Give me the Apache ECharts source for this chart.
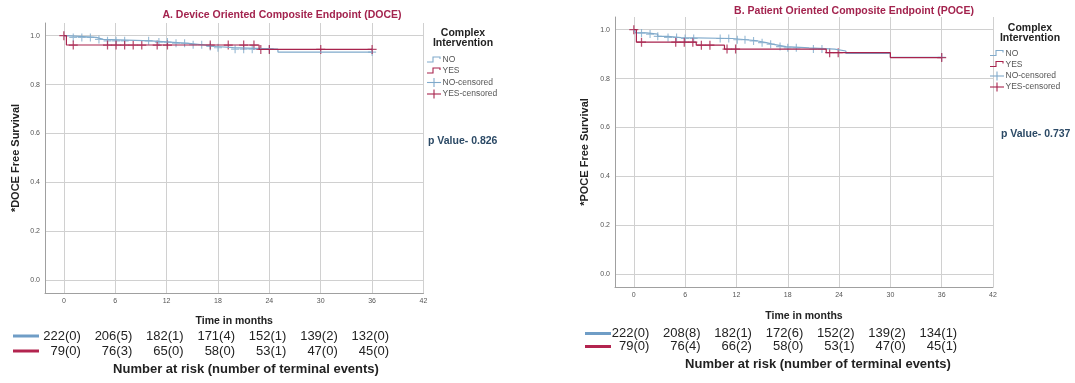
<!DOCTYPE html>
<html>
<head>
<meta charset="utf-8">
<script src="https://cdn.jsdelivr.net/npm/echarts@6/dist/echarts.min.js"></script>
<style>
  html, body { margin: 0; padding: 0; background: #fff; }
  #chart { width: 1075px; height: 383px; }
</style>
</head>
<body>
<div id="chart"></div>
<script>
// axis ticks
const monthTicks = [0, 6, 12, 18, 24, 30, 36, 42];
const survTicks = [0, 0.2, 0.4, 0.6, 0.8, 1.0];
const riskTimes = [0, 6, 12, 18, 24, 30, 36];

// A. DOCE - Kaplan-Meier steps [month, survival]
const doceNo = [[0, 1.0], [0.3, 0.993], [3.8, 0.985], [4.6, 0.979], [10.2, 0.974], [12.4, 0.969],
  [14.6, 0.963], [16.2, 0.956], [17.8, 0.951], [19.8, 0.945], [25.0, 0.933], [36, 0.933]];
const doceYes = [[0, 1.0], [0.3, 0.962], [22.8, 0.944], [36, 0.944]];
const doceNoCens = [1.1, 2.1, 3.1, 4.1, 5.1, 6.1, 7.1, 9.9, 11.1, 12.1, 13.1, 14.1, 15.1, 16.1, 17.1, 18, 20, 21, 22, 24, 36];
const doceYesCens = [0, 1.1, 5.1, 6.1, 7.1, 8.1, 9.1, 10.9, 12.1, 17.1, 19.2, 21, 22.2, 23, 24, 30, 36];
const doceAtRiskNo = [222, 206, 182, 171, 152, 139, 132];
const doceEventsNo = [0, 5, 1, 4, 1, 2, 0];
const doceAtRiskYes = [79, 76, 65, 58, 53, 47, 45];
const doceEventsYes = [0, 3, 0, 0, 1, 0, 0];

// B. POCE
const poceNo = [[0, 1.0], [0.2, 0.987], [1.5, 0.982], [2.8, 0.973], [4.0, 0.968], [5.5, 0.964], [11.5, 0.959],
  [13.2, 0.954], [14.5, 0.947], [15.5, 0.941], [16.2, 0.936], [17.0, 0.931], [17.8, 0.926], [20.5, 0.921],
  [23.5, 0.913], [24.8, 0.903], [30, 0.887], [36, 0.887]];
const poceYes = [[0, 1.0], [0.3, 0.949], [7.3, 0.937], [10.6, 0.921], [22.5, 0.906], [30, 0.886], [36, 0.886]];
const poceNoCens = [0.9, 1.9, 2.8, 4, 5, 6, 7, 10.1, 11.1, 12.1, 13, 14, 15, 16, 17.1, 18, 19, 21, 22, 36];
const poceYesCens = [0, 0.9, 4.9, 5.9, 6.9, 7.9, 8.9, 10.9, 11.9, 22.9, 23.9, 36];
const poceAtRiskNo = [222, 208, 182, 172, 152, 139, 134];
const poceEventsNo = [0, 8, 1, 6, 2, 2, 1];
const poceAtRiskYes = [79, 76, 66, 58, 53, 47, 45];
const poceEventsYes = [0, 4, 2, 0, 1, 0, 1];

const FONT = '"Liberation Sans", Arial, sans-serif';
const BLUE = '#80aacb';
const RED = '#a8234d';
const TITLE_RED = '#a3234e';
const PCOLOR = '#2c4a66';
const GRID_COLOR = '#d0d0d0';
const PLUS = 'path://M4.3,0h1.4v4.3h4.3v1.4h-4.3v4.3h-1.4v-4.3h-4.3v-1.4h4.3z';

function survAt(steps, t) {
    let s = steps[0][1];
    steps.forEach(p => { if (p[0] <= t) s = p[1]; });
    return s;
}

function makeX(gi, gap) {
    return {
        gridIndex: gi, type: 'value', min: -2.2, max: 42,
        name: 'Time in months', nameLocation: 'middle', nameGap: gap,
        nameTextStyle: { fontFamily: FONT, fontWeight: 'bold', fontSize: 10.5, color: '#222' },
        axisLine: { show: true, onZero: false, lineStyle: { color: '#a0a0a0', width: 1 } },
        axisTick: { show: false, customValues: monthTicks },
        axisLabel: { customValues: monthTicks, fontFamily: FONT, fontSize: 7, color: '#555', margin: 5 },
        splitLine: { show: true, lineStyle: { color: GRID_COLOR, width: 1 } }
    };
}

function makeY(gi, name, gap) {
    return {
        gridIndex: gi, type: 'value', min: -0.052, max: 1.052,
        name: name, nameLocation: 'middle', nameGap: gap,
        nameTextStyle: { fontFamily: FONT, fontWeight: 'bold', fontSize: 11, color: '#222' },
        axisLine: { show: true, onZero: false, lineStyle: { color: '#a0a0a0', width: 1 } },
        axisTick: { show: false, customValues: survTicks },
        axisLabel: { customValues: survTicks, formatter: v => v.toFixed(1), fontFamily: FONT, fontSize: 7, color: '#555', margin: 5 },
        splitLine: { show: true, lineStyle: { color: GRID_COLOR, width: 1 } }
    };
}

function curve(gi, data, color) {
    return {
        type: 'line', xAxisIndex: gi, yAxisIndex: gi, step: 'end', data: data,
        showSymbol: false, silent: true, animation: false,
        lineStyle: { color: color, width: 1.2 }
    };
}

function censored(gi, times, steps, color, size) {
    return {
        type: 'scatter', xAxisIndex: gi, yAxisIndex: gi, symbol: PLUS, symbolSize: size,
        data: times.map(t => [t, survAt(steps, t)]),
        itemStyle: { color: color }, silent: true, animation: false
    };
}

const chart = echarts.init(document.getElementById('chart'));

chart.setOption({
    backgroundColor: '#fff',
    animation: false,
    grid: [
        { left: 45, top: 23, width: 378.5, height: 270 },
        { left: 615, top: 17, width: 378, height: 270 }
    ],
    xAxis: [makeX(0, 23), makeX(1, 24)],
    yAxis: [makeY(0, '*DOCE Free Survival', 24), makeY(1, '*POCE Free Survival', 25)],
    series: [
        curve(0, doceNo, BLUE),
        curve(0, doceYes, RED),
        censored(0, doceNoCens, doceNo, BLUE, 8),
        censored(0, doceYesCens, doceYes, RED, 9),
        curve(1, poceNo, BLUE),
        curve(1, poceYes, RED),
        censored(1, poceNoCens, poceNo, BLUE, 8),
        censored(1, poceYesCens, poceYes, RED, 9)
    ]
});

// text helpers
function txt(x, y, text, opts) {
    return {
        type: 'text', x: x, y: y, silent: true,
        style: Object.assign({
            text: text, fontFamily: FONT, fontSize: 11, fill: '#222',
            align: 'left', verticalAlign: 'middle'
        }, opts || {})
    };
}

function legendBlock(cx, sx, titleY, itemYs, pX, pY, pText) {
    const g = [];
    g.push(txt(cx, titleY, 'Complex', { fontWeight: 'bold', fontSize: 10.5, align: 'center' }));
    g.push(txt(cx, titleY + 10.5, 'Intervention', { fontWeight: 'bold', fontSize: 10.5, align: 'center' }));
    const labels = ['NO', 'YES', 'NO-censored', 'YES-censored'];
    const colors = [BLUE, RED, BLUE, RED];
    itemYs.forEach((y, i) => {
        if (i < 2) {
            g.push({ type: 'polyline', silent: true,
                shape: { points: [[sx, y + 2], [sx + 6, y + 2], [sx + 6, y - 3], [sx + 13, y - 3], [sx + 13, y - 1]] },
                style: { stroke: colors[i], lineWidth: 1.1, fill: null } });
        } else {
            g.push({ type: 'line', silent: true, shape: { x1: sx, y1: y, x2: sx + 14, y2: y },
                style: { stroke: colors[i], lineWidth: 1.1 } });
            g.push({ type: 'line', silent: true, shape: { x1: sx + 7, y1: y - 4.5, x2: sx + 7, y2: y + 4.5 },
                style: { stroke: colors[i], lineWidth: 1.1 } });
        }
        g.push(txt(sx + 15.5, y, labels[i], { fontSize: 8.5, fill: '#555' }));
    });
    g.push(txt(pX, pY, pText, { fontWeight: 'bold', fontSize: 10.5, fill: PCOLOR }));
    return g;
}

function riskTable(gi, off, y1, y2, lineX, nAt, nEv, yAt, yEv, footX, footY) {
    const g = [];
    riskTimes.forEach((t, i) => {
        const px = chart.convertToPixel({ xAxisIndex: gi, yAxisIndex: gi }, [t, 0])[0] + off;
        g.push(txt(px, y1, nAt[i] + '(' + nEv[i] + ')', { fontSize: 13, align: 'right' }));
        g.push(txt(px, y2, yAt[i] + '(' + yEv[i] + ')', { fontSize: 13, align: 'right' }));
    });
    g.push({ type: 'line', silent: true, shape: { x1: lineX, y1: y1, x2: lineX + 26, y2: y1 }, style: { stroke: '#6f9dc6', lineWidth: 3 } });
    g.push({ type: 'line', silent: true, shape: { x1: lineX, y1: y2, x2: lineX + 26, y2: y2 }, style: { stroke: '#b3244f', lineWidth: 3 } });
    g.push(txt(footX, footY, 'Number at risk (number of terminal events)', { fontSize: 13, fontWeight: 'bold', align: 'center' }));
    return g;
}

let graphics = [];
graphics.push(txt(282, 15.5, 'A. Device Oriented Composite Endpoint (DOCE)', { fontWeight: 'bold', fontSize: 10.5, fill: TITLE_RED, align: 'center' }));
graphics.push(txt(854, 11, 'B. Patient Oriented Composite Endpoint (POCE)', { fontWeight: 'bold', fontSize: 10.5, fill: TITLE_RED, align: 'center' }));
graphics = graphics.concat(legendBlock(463, 427, 33, [60, 71, 82.5, 94], 428, 141, 'p Value- 0.826'));
graphics = graphics.concat(legendBlock(1030, 990, 28, [53.5, 64.5, 76, 87], 1001, 134, 'p Value- 0.737'));
graphics = graphics.concat(riskTable(0, 17, 336, 351, 13, doceAtRiskNo, doceEventsNo, doceAtRiskYes, doceEventsYes, 246, 369));
graphics = graphics.concat(riskTable(1, 15.5, 333.5, 346.5, 585, poceAtRiskNo, poceEventsNo, poceAtRiskYes, poceEventsYes, 818, 364));

chart.setOption({ graphic: graphics });
</script>
</body>
</html>
